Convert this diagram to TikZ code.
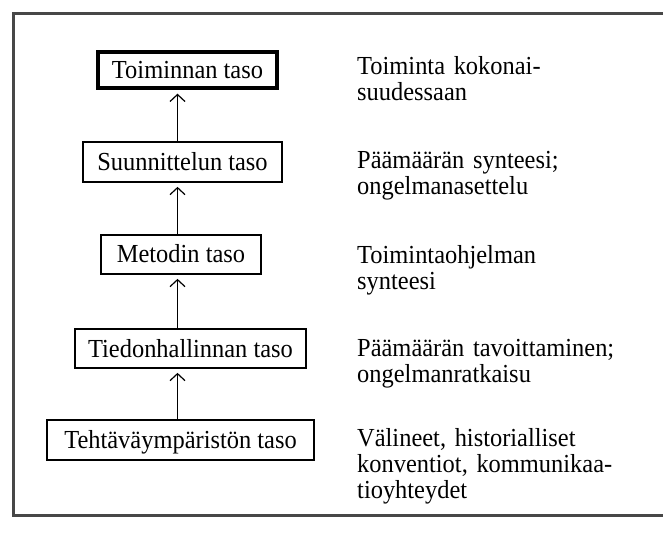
\documentclass[tikz,border=0pt]{standalone}
\usepackage{fontspec}
\setmainfont[FakeStretch=0.94]{Liberation Serif}
\usetikzlibrary{arrows.meta}
\tikzset{
  level/.style={draw=black, line width=1.7pt, inner sep=0pt, text height=17pt, text depth=0pt,
                font=\fontsize{26}{26}\selectfont},
  toplevel/.style={level, line width=3.4pt},
  note/.style={anchor=base west, inner sep=0pt, text width=300pt, align=left,
               font=\fontsize{26}{26}\selectfont},
  uparrow/.style={line width=1.2pt, -{Straight Barb[length=7pt,width=15pt,line width=1.2pt]},
                  shorten >=4pt},
  frame/.style={draw=black!72, line width=3.5pt}
}
\begin{document}
\begin{tikzpicture}[x=1pt, y=-1pt]
  \useasboundingbox (0,0) rectangle (663,534);
  \fill[white] (0,0) rectangle (663,534);
  % outer frame (right side runs off the page)
  \draw[frame] (670,13.5) -- (13.5,13.5) -- (13.5,515.5) -- (670,515.5);

  % levels, top to bottom
  \node[toplevel, minimum width=179pt, minimum height=36pt] (l1) at (187.5,70) {Toiminnan taso};
  \node[level, minimum width=199pt, minimum height=40pt] (l2) at (182.5,162) {Suunnittelun taso};
  \node[level, minimum width=160pt, minimum height=39pt] (l3) at (181,254.5) {Metodin taso};
  \node[level, minimum width=231pt, minimum height=39pt] (l4) at (190.5,348.5) {Tiedonhallinnan taso};
  \node[level, minimum width=267pt, minimum height=40pt] (l5) at (180.5,440) {Tehtäväympäristön taso};

  % common column of the arrows
  \coordinate (ax) at (177.5,0);
  \draw[uparrow] (l2.north -| ax) -- (l1.south -| ax);
  \draw[uparrow] (l3.north -| ax) -- (l2.south -| ax);
  \draw[uparrow] (l4.north -| ax) -- (l3.south -| ax);
  \draw[uparrow] (l5.north -| ax) -- (l4.south -| ax);

  % descriptions
  \node[note] (d1) at (357,75) {Toiminta kokonai-\\suudessaan};
  \node[note] (d2) at (357,168.5) {Päämäärän synteesi;\\ongelmanasettelu};
  \node[note] (d3) at (357,264) {Toimintaohjelman\\synteesi};
  \node[note] (d4) at (357,356.5) {Päämäärän tavoittaminen;\\ongelmanratkaisu};
  \node[note] (d5) at (357,446.5) {Välineet, historialliset\\konventiot, kommunikaa-\\tioyhteydet};
\end{tikzpicture}
\end{document}
